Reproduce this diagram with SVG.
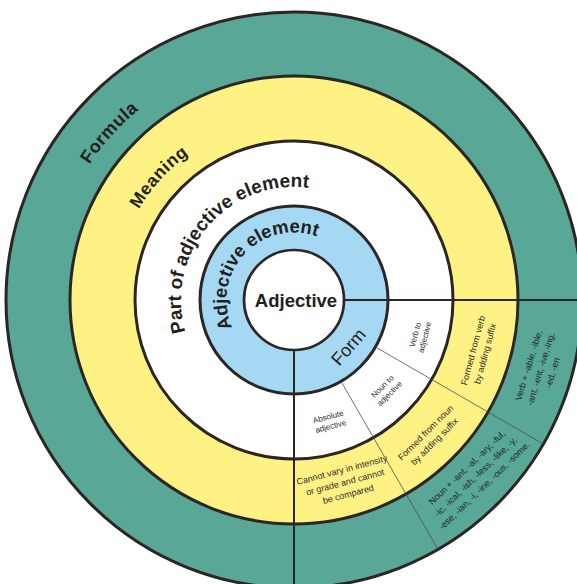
<svg xmlns="http://www.w3.org/2000/svg" width="577" height="584" viewBox="0 0 577 584">
<style>
.outline{stroke:#2b2523;stroke-width:3}
.axis{stroke:#2b2523;stroke-width:2;fill:none}
.div{stroke:#4d4d4d;stroke-width:0.8;fill:none}
.title{font-family:"Liberation Sans",Arial,sans-serif;font-weight:bold;fill:#231f20}
.s8{font-family:"Liberation Sans",Arial,sans-serif;font-size:8px;fill:#2a2a2a;text-anchor:middle}
.s9{font-family:"Liberation Sans",Arial,sans-serif;font-size:9px;fill:#2a2a2a;text-anchor:middle}
.sg{font-family:"Liberation Sans",Arial,sans-serif;font-size:9px;fill:#1f2a27;text-anchor:middle}
</style>
<defs>
<path id="p-formula" d="M100.0,450.5 A245.5,245.5 0 0 1 424.8,92.3"/>
<path id="p-meaning" d="M151.8,409.9 A179.7,179.7 0 0 1 390.0,148.1"/>
<path id="p-part" d="M206.8,371.9 A113,113 0 0 1 351.3,202.6"/>
<path id="p-adjel" d="M240.2,340.8 A67.5,67.5 0 0 1 330.6,243.3"/>
</defs>
<rect width="577" height="584" fill="#ffffff"/>

<g id="formula">
<circle cx="294" cy="300" r="288" fill="#59a796" class="outline"/>
<text class="title" font-size="18" letter-spacing="0.5" text-anchor="middle"><textPath href="#p-formula" startOffset="50%">Formula</textPath></text>
<g transform="translate(540.5,369) rotate(-73)"><text class="sg"><tspan x="0" y="-9.3">Verb + -able, -ible,</tspan><tspan x="0" y="3.2">-ant, -ent, -ive,-ing,</tspan><tspan x="0" y="15.7">-ed, -en</tspan></text></g>
<g transform="translate(475.5,476.5) rotate(-44)"><text class="sg"><tspan x="0" y="-9.3">Noun + -ant, -al, -ary, -ful,</tspan><tspan x="0" y="3.2">-ic, -ical, -ish, -less, -like, -y,</tspan><tspan x="0" y="15.7">-ese, -ian, -i, -ine, -ous, -some.</tspan></text></g>
</g>

<g id="meaning">
<circle cx="294" cy="300" r="224" fill="#fff285" class="outline"/>
<text class="title" font-size="17.5" letter-spacing="0.6" text-anchor="middle"><textPath href="#p-meaning" startOffset="50%">Meaning</textPath></text>
<g transform="translate(479,352) rotate(-75)"><text class="s9"><tspan x="0" y="-3.1">Formed from verb</tspan><tspan x="0" y="9.4">by adding suffix</tspan></text></g>
<g transform="translate(430,437) rotate(-45)"><text class="s9"><tspan x="0" y="-3.1">Formed from noun</tspan><tspan x="0" y="9.4">by adding suffix</tspan></text></g>
<g transform="translate(345,482) rotate(-15)"><text class="s9"><tspan x="0" y="-9.3">Cannot vary in intensity</tspan><tspan x="0" y="3.2">or grade and cannot</tspan><tspan x="0" y="15.7">be compared</tspan></text></g>
</g>

<g id="part-of-adjective-element">
<circle cx="294" cy="300" r="159" fill="#ffffff" class="outline"/>
<text class="title" font-size="19" text-anchor="middle"><textPath href="#p-part" startOffset="50%">Part of adjective element</textPath></text>
<g transform="translate(420,336) rotate(-75)"><text class="s8"><tspan x="0" y="-2.3">Verb to</tspan><tspan x="0" y="7.7">adjective</tspan></text></g>
<g transform="translate(386,390) rotate(-45)"><text class="s8"><tspan x="0" y="-2.3">Noun to</tspan><tspan x="0" y="7.7">adjective</tspan></text></g>
<g transform="translate(329.5,421.5) rotate(-15)"><text class="s8"><tspan x="0" y="-2.3">Absolute</tspan><tspan x="0" y="7.7">adjective</tspan></text></g>
</g>

<g id="adjective-element">
<circle cx="294" cy="300" r="94" fill="#a4d8f3" class="outline"/>
<text class="title" font-size="18.5" text-anchor="middle"><textPath href="#p-adjel" startOffset="50%">Adjective element</textPath></text>
<text transform="translate(353,351) rotate(-49)" font-family="'Liberation Sans',Arial,sans-serif" font-size="18" fill="#231f20" text-anchor="middle">Form</text>
</g>

<g id="adjective">
<circle cx="294" cy="300" r="50" fill="#ffffff" class="outline" style="stroke-width:2.7"/>
<text class="title" x="296" y="307" font-size="18.5" text-anchor="middle">Adjective</text>
</g>

<g id="connectors">
<line class="axis" x1="345" y1="300" x2="577" y2="300"/>
<line class="axis" x1="294" y1="351" x2="294" y2="584"/>
<line class="div" x1="376.3" y1="347.5" x2="542.5" y2="443.5"/>
<line class="div" x1="341.5" y1="382.3" x2="437.5" y2="548.5"/>
</g>
</svg>
